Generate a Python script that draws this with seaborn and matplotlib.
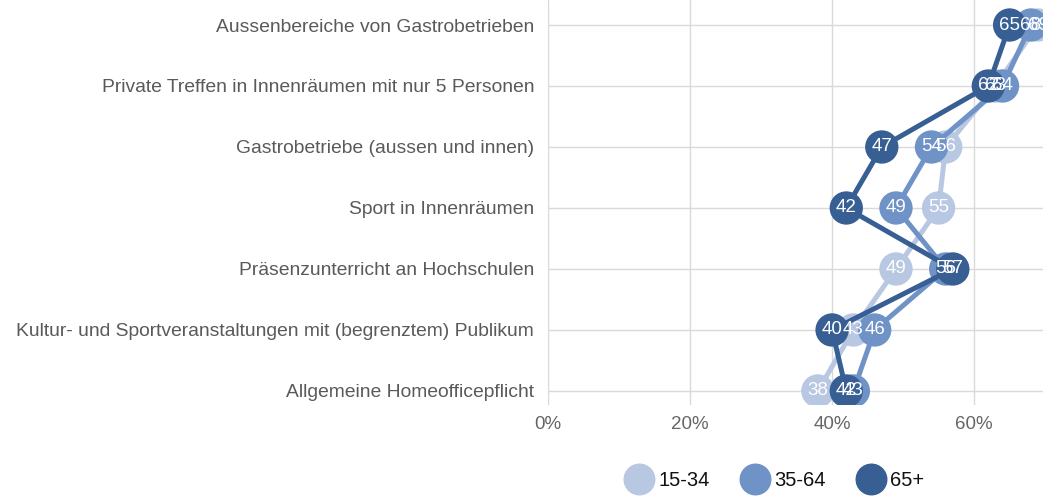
import numpy as np
import pandas as pd
import matplotlib
matplotlib.use("Agg")
import matplotlib.pyplot as plt
import seaborn as sns
from matplotlib.lines import Line2D

# Kategorien (von oben nach unten)
categories = ['Aussenbereiche von Gastrobetrieben',
              'Private Treffen in Innenräumen mit nur 5 Personen',
              'Gastrobetriebe (aussen und innen)',
              'Sport in Innenräumen',
              'Präsenzunterricht an Hochschulen',
              'Kultur- und Sportveranstaltungen mit (begrenztem) Publikum',
              'Allgemeine Homeofficepflicht']
groups = ['15-34', '35-64', '65+']
values_15_34 = [69, 63, 56, 55, 49, 43, 38]
values_35_64 = [68, 64, 54, 49, 56, 46, 43]
values_65 = [65, 62, 47, 42, 57, 40, 42]
colors = ['#b8c7e2', '#6f92c7', '#375f94']

df = pd.DataFrame({
    'kategorie': categories * 3,
    'pos': list(range(len(categories))) * 3,
    'gruppe': np.repeat(groups, len(categories)),
    'wert': values_15_34 + values_35_64 + values_65,
})

sns.set_style('white')
plt.rcParams['font.family'] = ['Liberation Sans', 'DejaVu Sans']

fig = plt.figure(figsize=(10.43, 4.96), dpi=100)
ax = fig.add_axes([0.5254, 0.1835, 0.4746, 0.8165])

for x in [0, 20, 40, 60]:
    ax.axvline(x, color='#d9d9d9', lw=1, zorder=0)
for y in range(len(categories)):
    ax.axhline(y, color='#d9d9d9', lw=1, zorder=0)

for i, (g, c) in enumerate(zip(groups, colors)):
    sub = df[df['gruppe'] == g]
    sns.lineplot(data=sub, x='wert', y='pos', orient='y', sort=False, ax=ax,
                 color=c, lw=3.6, zorder=2 + i * 2, legend=False)
    sns.scatterplot(data=sub, x='wert', y='pos', ax=ax, color=c, s=24 ** 2,
                    edgecolor='none', zorder=3 + i * 2, legend=False)

# Beschriftungen über allen Kreisen
for _, r in df.iterrows():
    ax.text(r['wert'], r['pos'], str(r['wert']), color='white', fontsize=13.5,
            ha='center', va='center', zorder=10)

ax.set_xlim(0, 69.7)
ax.set_ylim(6.23, -0.41)
ax.set_xticks([0, 20, 40, 60])
ax.set_xticklabels(['0%', '20%', '40%', '60%'], color='#666666', fontsize=13.5)
ax.set_yticks(range(len(categories)))
ax.set_yticklabels(categories, color='#5a5a5a', fontsize=13.9)
ax.tick_params(axis='y', length=0, pad=10)
ax.tick_params(axis='x', length=5, color='#d9d9d9', pad=3)
ax.set_xlabel('')
ax.set_ylabel('')
for s in ax.spines.values():
    s.set_visible(False)

handles = [Line2D([], [], marker='o', ls='', color=c, markersize=22) for c in colors]
fig.legend(handles, groups, loc='center', bbox_to_anchor=(0.742, 0.032), ncol=3,
           frameon=False, fontsize=14.5, handletextpad=0.2, columnspacing=1.5,
           handlelength=1.5, labelcolor='#111111')

fig.savefig('out.png', dpi=100)
